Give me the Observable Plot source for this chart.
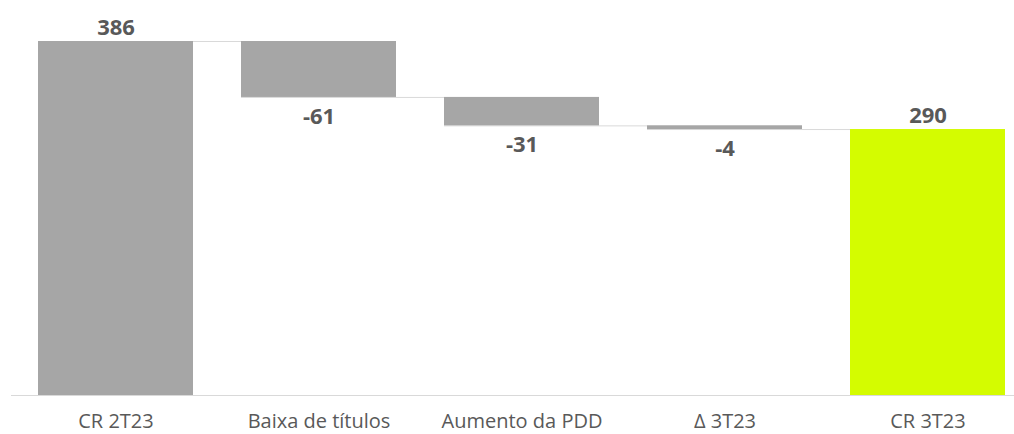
<!DOCTYPE html>
<html>
<head>
<meta charset="utf-8">
<script src="https://cdn.jsdelivr.net/npm/d3@7"></script>
<script src="https://cdn.jsdelivr.net/npm/@observablehq/plot@0.6"></script>
<style>
  html, body { margin: 0; padding: 0; background: #fff; }
  #chart svg { display: block; }
</style>
</head>
<body>
<div id="chart"></div>
<script>
const categories = ["CR 2T23", "Baixa de títulos", "Aumento da PDD", "Δ 3T23", "CR 3T23"];
const values = [386, -61, -31, -4, 290];
const kinds = ["total", "delta", "delta", "delta", "total"];
const labels = ["386", "-61", "-31", "-4", "290"];

const grey = "#a6a6a6";
const green = "#d4fc00";
const textColor = "#595959";

let running = 0;
const rows = categories.map((c, i) => {
  let y1, y2;
  if (kinds[i] === "total") { y1 = 0; y2 = values[i]; running = values[i]; }
  else { y1 = running; y2 = running + values[i]; running = y2; }
  return {
    cat: c, y1, y2, value: values[i], label: labels[i],
    color: i === categories.length - 1 ? green : grey,
    top: Math.max(y1, y2), bottom: Math.min(y1, y2),
    positive: values[i] >= 0,
    end: y2
  };
});
const connectors = rows.slice(0, -1).map((r, i) => ({ x1: r.cat, x2: rows[i + 1].cat, y: r.end }));

const chart = Plot.plot({
  width: 1014,
  height: 434,
  marginTop: 41,
  marginBottom: 39,
  marginLeft: 11,
  marginRight: 0,
  style: { fontFamily: "'Open Sans', sans-serif", background: "#fff" },
  x: { domain: categories, paddingInner: 0.2374, paddingOuter: 0.0861, align: 0.743, label: null, tickSize: 0 },
  y: { domain: [0, 386], axis: null },
  marks: [
    Plot.ruleY(connectors, { x1: "x1", x2: "x2", y: "y", stroke: "#d9d9d9", strokeWidth: 1 }),
    Plot.barY(rows, { x: "cat", y1: "y1", y2: "y2", fill: "color" }),
    Plot.ruleY([0], { stroke: "#d9d9d9", strokeWidth: 1 }),
    Plot.text(rows.filter(d => d.positive), { x: "cat", y: "top", text: "label", lineAnchor: "bottom", dy: -7, fill: textColor, fontWeight: "bold", fontSize: 22 }),
    Plot.text(rows.filter(d => !d.positive), { x: "cat", y: "bottom", text: "label", lineAnchor: "top", dy: 11, fill: textColor, fontWeight: "bold", fontSize: 22 }),
    Plot.axisX({ tickSize: 0, tickPadding: 18, fontSize: 20, color: textColor, label: null })
  ]
});
document.getElementById("chart").appendChild(chart);
</script>
</body>
</html>
